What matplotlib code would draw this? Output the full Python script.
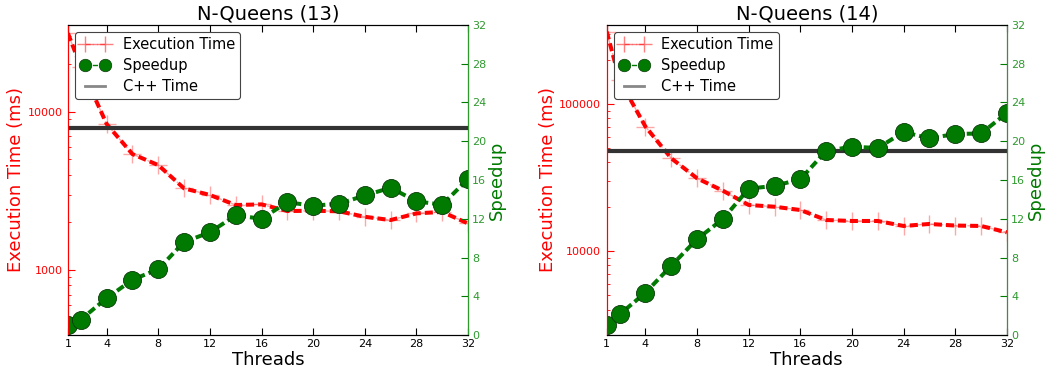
import matplotlib
matplotlib.use('Agg')
import matplotlib.pyplot as plt
from matplotlib.lines import Line2D
from matplotlib.ticker import LogLocator, FixedLocator, NullFormatter

plt.rcParams['font.family'] = ['DejaVu Sans']
plt.rcParams['xtick.direction'] = 'in'
plt.rcParams['ytick.direction'] = 'in'
plt.rcParams['xtick.top'] = True

# ---- data ----
threads = [1, 2, 4, 6, 8, 10, 12, 14, 16, 18, 20, 22, 24, 26, 28, 30, 32]

time_13 = [31300, 19200, 8360, 5400, 4600, 3280, 2980, 2575, 2600, 2360,
           2370, 2350, 2170, 2070, 2280, 2330, 1970]
speedup_13 = [1.0, 1.6, 3.8, 5.7, 6.8, 9.6, 10.6, 12.35, 12.0, 13.7,
              13.35, 13.55, 14.4, 15.2, 13.8, 13.45, 16.1]
cpp_13 = 7930

time_14 = [310000, 145000, 70100, 42700, 31200, 25700, 20560, 20000, 19000,
           16250, 16000, 16000, 14800, 15270, 14900, 14800, 13400]
speedup_14 = [1.03, 2.13, 4.37, 7.15, 9.9, 11.97, 15.1, 15.4, 16.07, 19.0,
              19.44, 19.3, 20.95, 20.3, 20.75, 20.8, 22.9]
cpp_14 = 47900

panels = [
    ('N-Queens (13)', time_13, speedup_13, cpp_13, (389, 35300), [1000, 10000]),
    ('N-Queens (14)', time_14, speedup_14, cpp_14, (2685, 344000), [10000, 100000]),
]

x_ticks = [1, 4, 8, 12, 16, 20, 24, 28, 32]
GREEN = '#007a00'
TICKGREEN = '#2e9a2e'
DOTS = (0, (2, 1))

fig = plt.figure(figsize=(10.47, 3.77), dpi=100, facecolor='white')
positions = [[0.0649, 0.1114, 0.3821, 0.8223], [0.5795, 0.1114, 0.3821, 0.8223]]

for pos, (title, times, speedup, cpp, ylim, yt) in zip(positions, panels):
    ax = fig.add_axes(pos)
    ax.set_yscale('log')
    # thin light line with + markers, then the thick dotted line on top
    ax.plot(threads, times, color='red', linestyle='--', linewidth=1, marker='+',
            markersize=13, markeredgewidth=1, alpha=0.35, zorder=2)
    ax.plot(threads, times, color='red', linestyle=DOTS, linewidth=2.9,
            dash_capstyle='butt', zorder=3)
    ax.axhline(cpp, color='#333333', linewidth=3, zorder=4)
    ax.set_xlim(1, 32)
    ax.set_ylim(*ylim)
    ax.set_xticks(x_ticks)
    ax.yaxis.set_major_locator(FixedLocator(yt))
    ax.yaxis.set_minor_locator(LogLocator(base=10, subs=range(2, 10)))
    ax.yaxis.set_minor_formatter(NullFormatter())
    ax.set_yticklabels([str(v) for v in yt])
    ax.tick_params(axis='x', labelsize=8, length=5, pad=3)
    ax.tick_params(axis='y', which='major', colors='red', labelcolor='red', labelsize=8, length=5, pad=4)
    ax.tick_params(axis='y', which='minor', colors='red', length=2.5)
    ax.spines['left'].set_color('red')
    ax.set_xlabel('Threads', fontsize=13, labelpad=1)
    ax.set_ylabel('Execution Time (ms)', fontsize=13, color='red', labelpad=1.5)
    ax.set_title(title, fontsize=14, pad=4)

    ax2 = ax.twinx()
    ax2.plot(threads, speedup, color=GREEN, linestyle=DOTS, linewidth=2.9,
             dash_capstyle='butt', marker='o', markersize=13,
             markerfacecolor=GREEN, markeredgecolor='#0a3a0a', markeredgewidth=0.6,
             zorder=5)
    ax2.set_ylim(0, 32)
    ax2.set_yticks(range(0, 33, 4))
    ax2.tick_params(axis='y', colors=GREEN, labelcolor=TICKGREEN, labelsize=8, length=5, pad=3)
    ax2.spines['right'].set_color('#2e9a2e')
    ax2.spines['left'].set_color('red')
    ax2.set_ylabel('Speedup', fontsize=13, color=GREEN, labelpad=1)
    for sp in ax2.spines.values():
        sp.set_zorder(6)

    handles = [
        Line2D([], [], color='red', linestyle='--', linewidth=1, marker='+',
               markersize=11, alpha=0.5),
        Line2D([], [], color=GREEN, linestyle='--', linewidth=1, marker='o',
               markersize=9, markeredgecolor='#0a3a0a', markeredgewidth=0.5),
        Line2D([], [], color='#555555', linewidth=2, alpha=0.7),
    ]
    leg = ax2.legend(handles, ['Execution Time', 'Speedup', 'C++ Time'],
                     loc='upper left', fontsize=10.5, numpoints=2, fancybox=True,
                     framealpha=1, edgecolor='#444444', borderaxespad=0.5,
                     handlelength=2.0, handletextpad=0.9, labelspacing=0.4,
                     borderpad=0.35)
    leg.get_frame().set_linewidth(0.8)
    leg.set_zorder(10)

fig.savefig('out.png', dpi=100, facecolor='white')
